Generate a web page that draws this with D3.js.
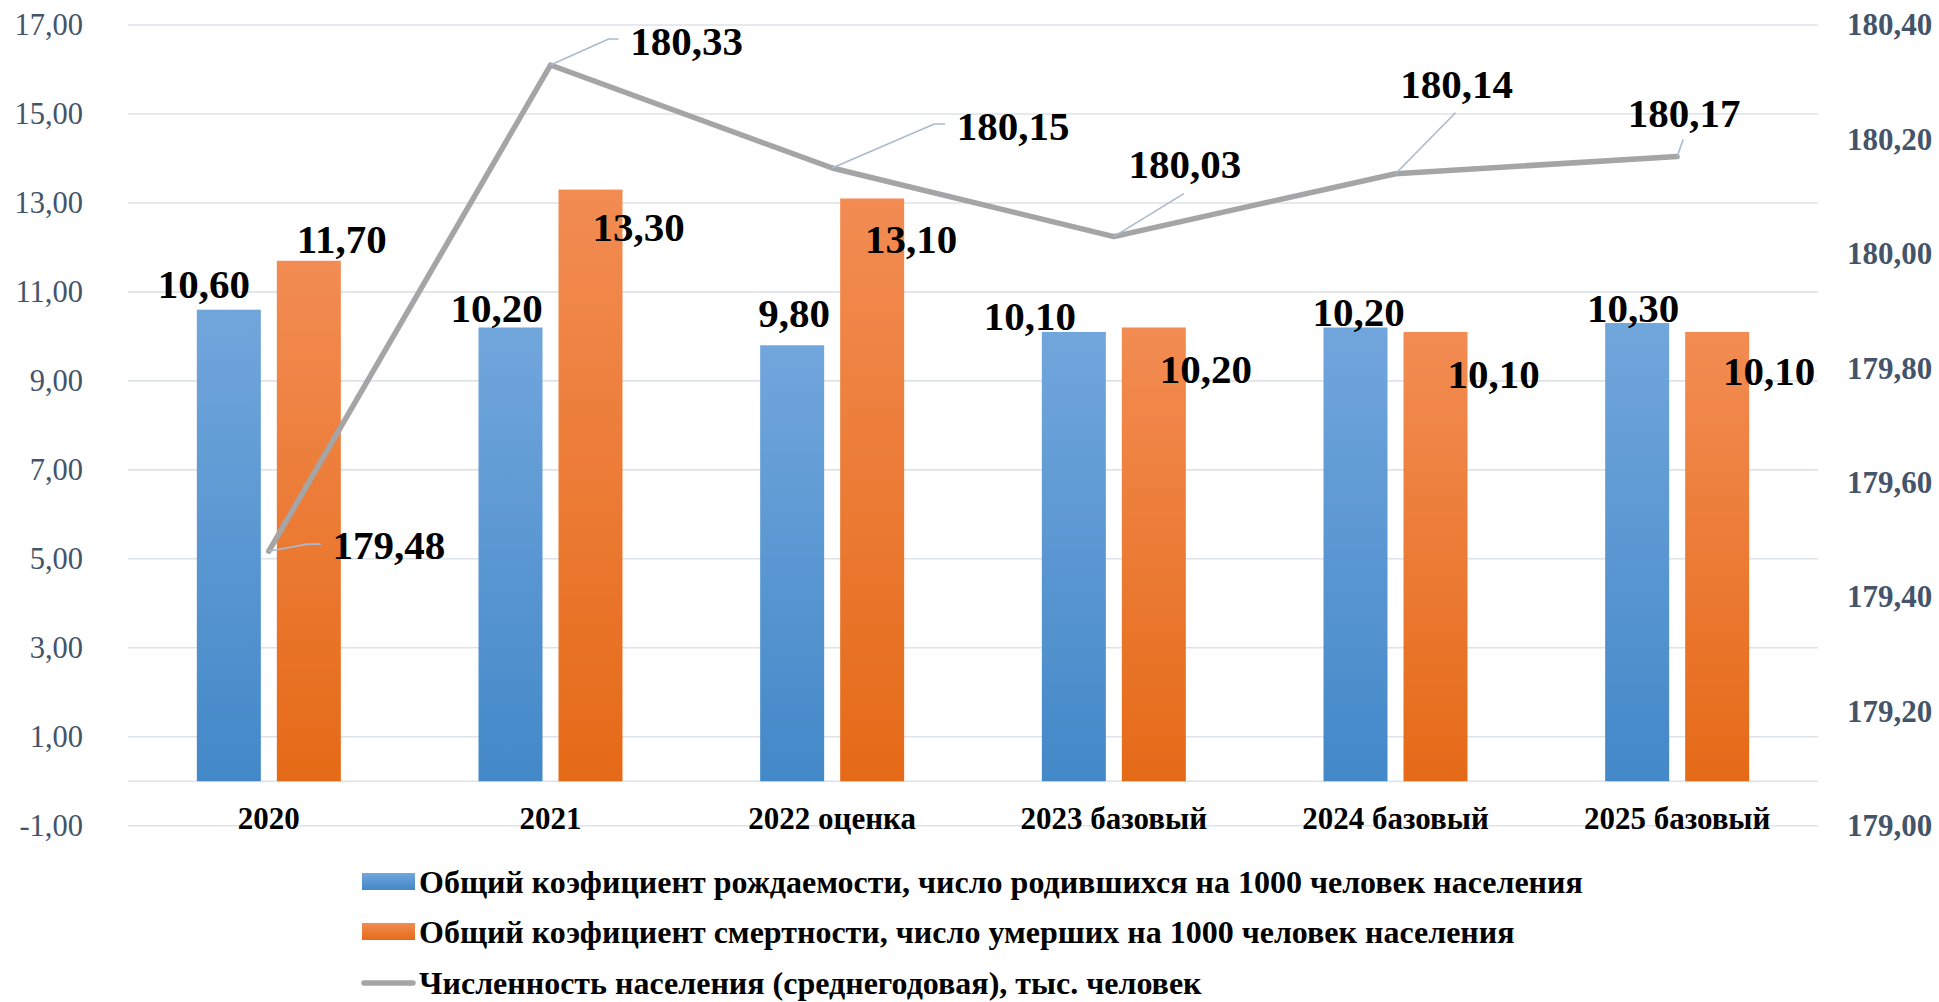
<!DOCTYPE html>
<html>
<head>
<meta charset="utf-8">
<script src="https://cdn.jsdelivr.net/npm/d3@7"></script>
<style>
  html, body { margin: 0; padding: 0; background: #fff; }
  svg { display: block; }
  text { font-family: "Liberation Serif", "Times New Roman", serif; }
</style>
</head>
<body>
<svg id="chart" width="1939" height="1002"></svg>
<script>
// ---------- DATA ----------
const categories = ["2020", "2021", "2022 оценка", "2023 базовый", "2024 базовый", "2025 базовый"];
const birthRate = [10.6, 10.2, 9.8, 10.1, 10.2, 10.3];
const deathRate = [11.7, 13.3, 13.1, 10.2, 10.1, 10.1];
const population = [179.48, 180.33, 180.15, 180.03, 180.14, 180.17];
const leftTicks = [-1, 1, 3, 5, 7, 9, 11, 13, 15, 17];
const rightTicks = [179.0, 179.2, 179.4, 179.6, 179.8, 180.0, 180.2, 180.4];
const seriesNames = [
  "Общий коэфициент рождаемости, число родившихся на 1000 человек населения",
  "Общий коэфициент смертности, число умерших на 1000 человек населения",
  "Численность населения (среднегодовая), тыс. человек"
];

// ---------- LAYOUT (label offsets relative to marks) ----------
const birthLabelOff = [[-25,-12],[-14,-5],[2,-18],[-44,-2],[3,-1],[-4,-1]];
const deathLabelOff = [[33,-8],[48,51],[39,55],[52,56],[58,56],[52,53]];
const popLabelOff = [[120,8],[136,-10],[181,-28],[71,-59],[61,-76],[7,-30]];
const popLeader = [
  [[0,0],[38,-7],[52,-7]],
  [[0,0],[58,-26],[68,-26]],
  [[0,0],[102,-44],[113,-44]],
  [[0,0],[70,-43]],
  [[0,0],[60,-61]],
  [[0,0],[6,-17]]
];

const fmt = v => d3.format(".2f")(v).replace(".", ",").replace("\u2212", "-");
const svg = d3.select("#chart");
const plotL = 128, plotR = 1818, plotT = 25, plotB = 825.7;

const x = d3.scaleBand().domain(categories).range([plotL, plotR]).padding(0);
const yL = d3.scaleLinear().domain([-1, 17]).range([plotB, plotT]);
const yR = d3.scaleLinear().domain([179.0, 180.4]).range([plotB, plotT]);
const barW = 64, barGap = 16;

// gradients
const defs = svg.append("defs");
function grad(id, top, bottom) {
  const g = defs.append("linearGradient").attr("id", id).attr("x1", 0).attr("y1", 0).attr("x2", 0).attr("y2", 1);
  g.append("stop").attr("offset", "0%").attr("stop-color", top);
  g.append("stop").attr("offset", "100%").attr("stop-color", bottom);
}
grad("gBlue", "#71A6DC", "#4388C8");
grad("gOrange", "#F28C53", "#E56A17");

// gridlines
svg.append("g").selectAll("line").data(leftTicks.concat([0])).join("line")
  .attr("x1", plotL).attr("x2", plotR)
  .attr("y1", d => yL(d)).attr("y2", d => yL(d))
  .attr("stroke", "#DEE2E9").attr("stroke-width", 1.6);

// left axis
const axL = svg.append("g").attr("transform", `translate(83,0)`)
  .call(d3.axisLeft(yL).tickValues(leftTicks).tickSize(0).tickPadding(0).tickFormat(fmt));
axL.select(".domain").remove();
axL.selectAll("text").attr("fill", "#44546A").style("font-size", "30.5px")
  .style("font-family", "'Liberation Serif', 'Times New Roman', serif");

// right axis
const axR = svg.append("g").attr("transform", `translate(1847,0)`)
  .call(d3.axisRight(yR).tickValues(rightTicks).tickSize(0).tickPadding(0).tickFormat(fmt));
axR.select(".domain").remove();
axR.selectAll("text").attr("fill", "#44546A").style("font-size", "31px").style("font-weight", "bold")
  .style("font-family", "'Liberation Serif', 'Times New Roman', serif");

// bars
const cx = c => x(c) + x.bandwidth() / 2;
svg.append("g").selectAll("rect").data(birthRate).join("rect")
  .attr("x", (d, i) => cx(categories[i]) - barGap / 2 - barW)
  .attr("width", barW)
  .attr("y", d => yL(d)).attr("height", d => yL(0) - yL(d))
  .attr("fill", "url(#gBlue)");
svg.append("g").selectAll("rect").data(deathRate).join("rect")
  .attr("x", (d, i) => cx(categories[i]) + barGap / 2)
  .attr("width", barW)
  .attr("y", d => yL(d)).attr("height", d => yL(0) - yL(d))
  .attr("fill", "url(#gOrange)");

// category labels
svg.append("g").selectAll("text").data(categories).join("text")
  .attr("x", d => cx(d)).attr("y", 829)
  .attr("text-anchor", "middle").attr("font-weight", "bold").attr("font-size", 31)
  .attr("fill", "#000").text(d => d);

// population line
const pts = population.map((v, i) => [cx(categories[i]), yR(v)]);
svg.append("path").attr("d", d3.line()(pts))
  .attr("fill", "none").attr("stroke", "#A5A5A5").attr("stroke-width", 5.5)
  .attr("stroke-linejoin", "round").attr("stroke-linecap", "round");

// leader lines
svg.append("g").selectAll("path").data(popLeader).join("path")
  .attr("d", (seg, i) => d3.line()(seg.map(p => [pts[i][0] + p[0], pts[i][1] + p[1]])))
  .attr("fill", "none").attr("stroke", "#AABACD").attr("stroke-width", 1.6);

// bar data labels
const lblStyle = sel => sel.attr("text-anchor", "middle").attr("font-weight", "bold")
  .attr("font-size", 41).attr("fill", "#000");
svg.append("g").selectAll("text").data(birthRate).join("text")
  .attr("x", (d, i) => cx(categories[i]) - barGap / 2 - barW / 2 + birthLabelOff[i][0])
  .attr("y", (d, i) => yL(d) + birthLabelOff[i][1])
  .call(lblStyle).text(fmt);
svg.append("g").selectAll("text").data(deathRate).join("text")
  .attr("x", (d, i) => cx(categories[i]) + barGap / 2 + barW / 2 + deathLabelOff[i][0])
  .attr("y", (d, i) => yL(d) + deathLabelOff[i][1])
  .call(lblStyle).text(fmt);
svg.append("g").selectAll("text").data(population).join("text")
  .attr("x", (d, i) => pts[i][0] + popLabelOff[i][0])
  .attr("y", (d, i) => pts[i][1] + popLabelOff[i][1])
  .call(lblStyle).text(fmt);

// legend
const lg = svg.append("g");
const rowY = [882, 932, 983];
lg.append("rect").attr("x", 362).attr("y", rowY[0] - 9).attr("width", 53).attr("height", 17).attr("fill", "url(#gBlue)");
lg.append("rect").attr("x", 362).attr("y", rowY[1] - 9).attr("width", 53).attr("height", 17).attr("fill", "url(#gOrange)");
lg.append("line").attr("x1", 364).attr("x2", 413).attr("y1", rowY[2]).attr("y2", rowY[2])
  .attr("stroke", "#A5A5A5").attr("stroke-width", 5.5).attr("stroke-linecap", "round");
lg.selectAll("text").data(seriesNames).join("text")
  .attr("x", 419).attr("y", (d, i) => rowY[i]).attr("dy", "0.34em")
  .attr("font-weight", "bold").attr("font-size", 32).attr("fill", "#000")
  .text(d => d);
</script>
</body>
</html>
